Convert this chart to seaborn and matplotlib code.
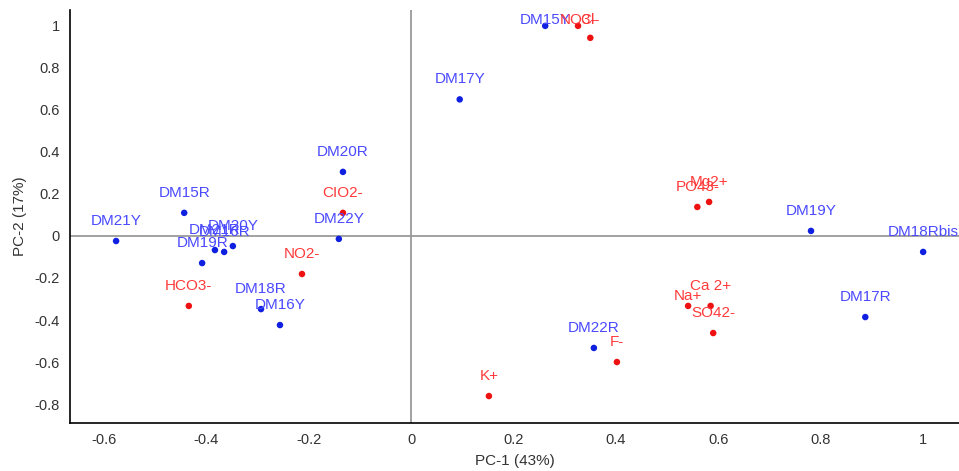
import seaborn as sns
import matplotlib.pyplot as plt
import pandas as pd
from matplotlib.ticker import MultipleLocator

# samples (blue)
sample_names = ["DM15Y", "DM17Y", "DM20R", "DM15R", "DM21Y", "DM22Y", "DM20Y", "DM16R",
                "DM21R", "DM19R", "DM18R", "DM16Y", "DM19Y", "DM18Rbis", "DM17R", "DM22R"]
sample_pc1 = [0.262, 0.095, -0.133, -0.443, -0.576, -0.141, -0.348, -0.365,
              -0.383, -0.408, -0.293, -0.256, 0.781, 1.0, 0.887, 0.357]
sample_pc2 = [1.0, 0.650, 0.305, 0.110, -0.024, -0.014, -0.048, -0.076,
              -0.067, -0.129, -0.348, -0.424, 0.024, -0.076, -0.386, -0.533]

# variables (red)
var_names = ["NO3-", "Cl-", "CIO2-", "NO2-", "HCO3-", "PO43-", "Mg2+", "Na+",
             "Ca 2+", "SO42-", "F-", "K+"]
var_pc1 = [0.326, 0.350, -0.133, -0.213, -0.434, 0.559, 0.582, 0.541,
           0.585, 0.590, 0.402, 0.152]
var_pc2 = [1.0, 0.943, 0.110, -0.181, -0.333, 0.138, 0.162, -0.333,
           -0.333, -0.462, -0.600, -0.762]

df = pd.concat([
    pd.DataFrame({"name": sample_names, "pc1": sample_pc1, "pc2": sample_pc2, "kind": "sample"}),
    pd.DataFrame({"name": var_names, "pc1": var_pc1, "pc2": var_pc2, "kind": "variable"}),
], ignore_index=True)

sns.set_style("white")
plt.rcParams['font.family'] = ['Liberation Sans', 'DejaVu Sans']

fig = plt.figure(figsize=(9.59, 4.71), dpi=100)
ax = fig.add_axes([0.073, 0.102, 0.927, 0.877])

ax.axhline(0, color="#9a9a9a", lw=1.3, zorder=0)
ax.axvline(0, color="#9a9a9a", lw=1.3, zorder=0)

palette = {"sample": "#1020e0", "variable": "#ee1111"}
sns.scatterplot(data=df, x="pc1", y="pc2", hue="kind", palette=palette,
                s=22, edgecolor="none", legend=False, ax=ax, zorder=3)

# labels sit above their point, kept inside the top of the plot area
label_colors = {"sample": "#4a4aff", "variable": "#ff3a3a"}
label_shift = {"Na+": 0.045}
for _, r in df.iterrows():
    ly = min(r["pc2"] + label_shift.get(r["name"], 0.095), 1.03)
    ax.text(r["pc1"], ly, r["name"], ha="center", va="center", fontsize=11,
            color=label_colors[r["kind"]], zorder=4, clip_on=False)

ax.set_xlim(-0.666, 1.07)
ax.set_ylim(-0.89, 1.076)
ax.xaxis.set_major_locator(MultipleLocator(0.2))
ax.xaxis.set_minor_locator(MultipleLocator(0.1))
ax.yaxis.set_major_locator(MultipleLocator(0.2))
ax.yaxis.set_minor_locator(MultipleLocator(0.1))
ax.tick_params(which="both", direction="out", color="#333333", labelsize=10.5, labelcolor="#333333")
ax.tick_params(which="major", length=4, width=1)
ax.tick_params(which="minor", length=3, width=1)
fmt = plt.FuncFormatter(lambda v, p: f"{v:g}" if abs(v) > 1e-9 else "0")
ax.xaxis.set_major_formatter(fmt)
ax.yaxis.set_major_formatter(fmt)

for side in ["top", "right"]:
    ax.spines[side].set_visible(False)
for side in ["left", "bottom"]:
    ax.spines[side].set_color("black")
    ax.spines[side].set_linewidth(1.2)

ax.set_xlabel("PC-1 (43%)", fontsize=11, color="#333333", labelpad=5)
ax.set_ylabel("PC-2 (17%)", fontsize=11, color="#333333", labelpad=5)

fig.savefig("out.png", dpi=100)
